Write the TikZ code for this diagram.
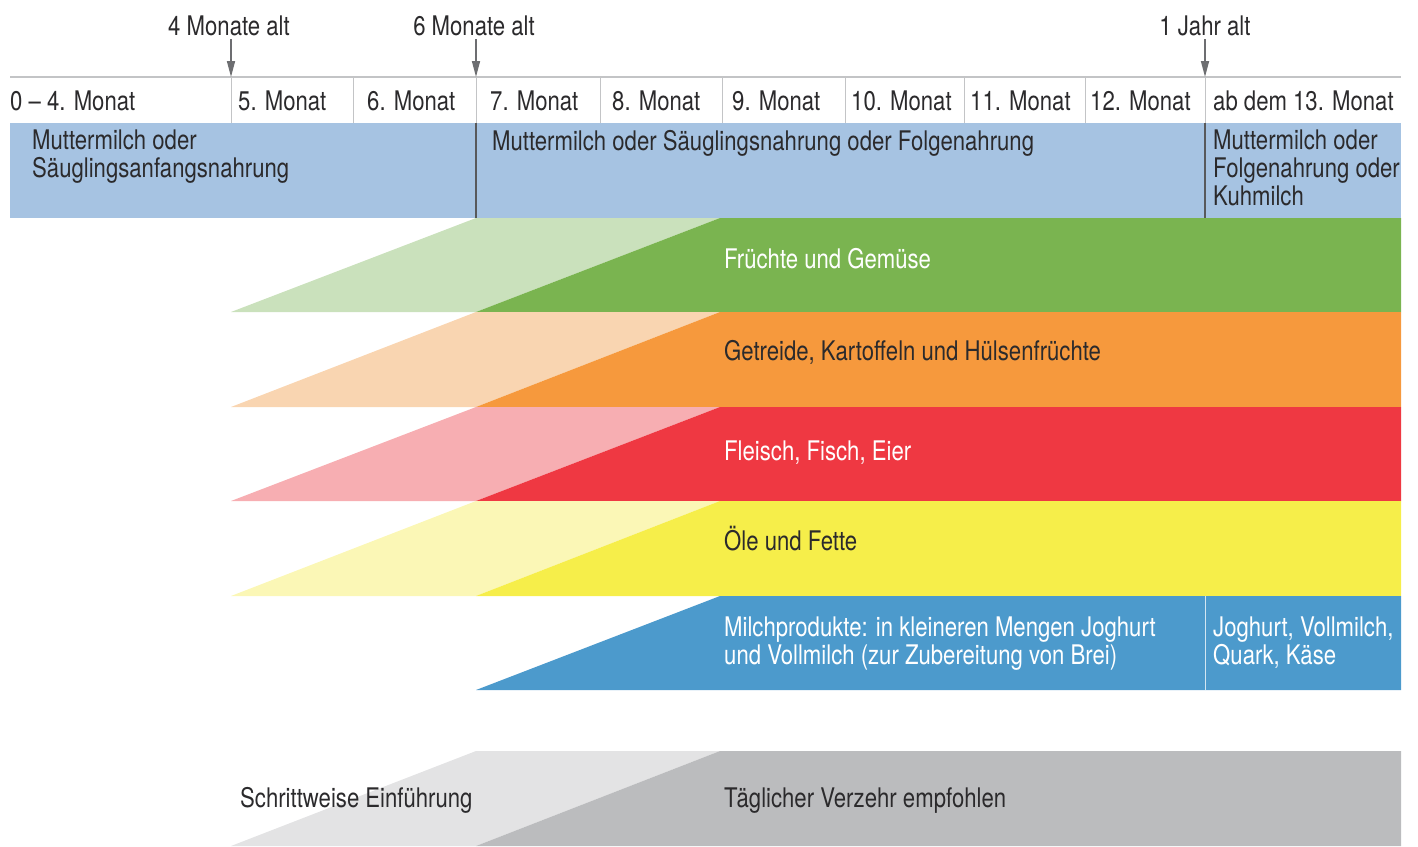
\documentclass[tikz,border=0pt]{standalone}
\usepackage{fontspec}
\setmainfont{TeX Gyre Heros}[FakeStretch=0.82]
\usetikzlibrary{arrows.meta}
\definecolor{schrift}{HTML}{2B2A2C}
\definecolor{pfeilgrau}{HTML}{6D6E71}
\definecolor{linie}{HTML}{C3C4C6}
\definecolor{milch}{HTML}{A6C3E2}
\definecolor{trenner}{HTML}{58595B}
\definecolor{gruen}{HTML}{7AB450}
\definecolor{gruenhell}{HTML}{CAE1BC}
\definecolor{orange}{HTML}{F6993D}
\definecolor{orangehell}{HTML}{F9D5B1}
\definecolor{rot}{HTML}{EF3842}
\definecolor{rothell}{HTML}{F7AEB2}
\definecolor{gelb}{HTML}{F6EE4A}
\definecolor{gelbhell}{HTML}{FBF7B6}
\definecolor{blau}{HTML}{4C9ACC}
\definecolor{grau}{HTML}{BBBCBE}
\definecolor{grauhell}{HTML}{E3E3E4}
\begin{document}
\begin{tikzpicture}[x=1pt,y=-1pt,
    txt/.style={inner sep=0pt,text=schrift,font=\fontsize{27}{28}\selectfont},
    monat/.style={txt,anchor=base west},
    block/.style={txt,anchor=north west,align=left},
    hell/.style={text=white},
    pfeil/.style={draw=pfeilgrau,line width=1.6pt,-{Triangle[length=16pt,width=8pt]}}]
  \useasboundingbox (0,0) rectangle (1418,846);
  % Milch
  \fill[milch] (10,123) rectangle (1401,218);
  \draw[trenner,line width=1.2pt] (476,123) -- (476,218) (1205,123) -- (1205,218);
  % Lebensmittel
  \fill[gruenhell] (231,312) -- (476,218) -- (720,218) -- (476,312) -- cycle;
  \fill[gruen] (476,312) -- (720,218) -- (1401,218) -- (1401,312) -- cycle;
  \fill[orangehell] (231,407) -- (476,312) -- (720,312) -- (476,407) -- cycle;
  \fill[orange] (476,407) -- (720,312) -- (1401,312) -- (1401,407) -- cycle;
  \fill[rothell] (231,501) -- (476,407) -- (720,407) -- (476,501) -- cycle;
  \fill[rot] (476,501) -- (720,407) -- (1401,407) -- (1401,501) -- cycle;
  \fill[gelbhell] (231,596) -- (476,501) -- (720,501) -- (476,596) -- cycle;
  \fill[gelb] (476,596) -- (720,501) -- (1401,501) -- (1401,596) -- cycle;
  \fill[blau] (476,690) -- (720,596) -- (1401,596) -- (1401,690) -- cycle;
  \draw[white!75!blau,line width=1pt] (1205,596) -- (1205,690);
  % Legende
  \fill[grauhell] (231,846) -- (476,751) -- (720,751) -- (476,846) -- cycle;
  \fill[grau] (476,846) -- (720,751) -- (1401,751) -- (1401,846) -- cycle;
  % Zeitachse
  \draw[linie,line width=1.2pt] (10,77) -- (1401,77);
  \begin{scope}[linie,line width=0.8pt]
    \draw (231,77) -- (231,123);
    \draw (353,77) -- (353,123);
    \draw (476,77) -- (476,123);
    \draw (600,77) -- (600,123);
    \draw (722,77) -- (722,123);
    \draw (845,77) -- (845,123);
    \draw (964,77) -- (964,123);
    \draw (1085,77) -- (1085,123);
    \draw (1205,77) -- (1205,123);
  \end{scope}
  \draw
    (10,110) node[monat] (m0) {0 – 4. Monat}
    (238,110) node[monat] (m5) {5. Monat}
    (367,110) node[monat] (m6) {6. Monat}
    (490,110) node[monat] (m7) {7. Monat}
    (612,110) node[monat] (m8) {8. Monat}
    (732,110) node[monat] (m9) {9. Monat}
    (851,110) node[monat] (m10) {10. Monat}
    (970,110) node[monat] (m11) {11. Monat}
    (1090,110) node[monat] (m12) {12. Monat}
    (1213,110) node[monat] (m13) {ab dem 13. Monat};
  % Alter
  \node[txt] (alt4) at (229,26) {4 Monate alt};
  \node[txt] (alt6) at (474,26) {6 Monate alt};
  \node[txt] (alt12) at (1205,26) {1 Jahr alt};
  \coordinate (a4) at (231,77);
  \coordinate (a6) at (476,77);
  \coordinate (a12) at (1205,77);
  \begin{scope}[shorten <=3pt]
    \draw[pfeil] (alt4.south -| a4) -- (a4);
    \draw[pfeil] (alt6.south -| a6) -- (a6);
    \draw[pfeil] (alt12) -- (a12);
  \end{scope}
  % Texte
  \node[block] (milch1) at (32,130) {Muttermilch oder\\Säuglingsanfangsnahrung};
  \node[block] (milch2) at (492,130) {Muttermilch oder Säuglingsnahrung oder Folgenahrung};
  \node[block] (milch3) at (1213,130) {Muttermilch oder\\Folgenahrung oder\\Kuhmilch};
  \node[monat,hell] (obst) at (724,268) {Früchte und Gemüse};
  \node[monat] (getreide) at (724,360) {Getreide, Kartoffeln und Hülsenfrüchte};
  \node[monat,hell] (fleisch) at (724,460) {Fleisch, Fisch, Eier};
  \node[monat] (fett) at (724,550) {Öle und Fette};
  \node[block,hell] (milchpr1) at (724,617) {Milchprodukte: in kleineren Mengen Joghurt\\und Vollmilch (zur Zubereitung von Brei)};
  \node[block,hell] (milchpr2) at (1213,617) {Joghurt, Vollmilch,\\Quark, Käse};
  \node[monat] (schritt) at (240,807) {Schrittweise Einführung};
  \node[monat] (taeglich) at (724,807) {Täglicher Verzehr empfohlen};
\end{tikzpicture}
\end{document}
